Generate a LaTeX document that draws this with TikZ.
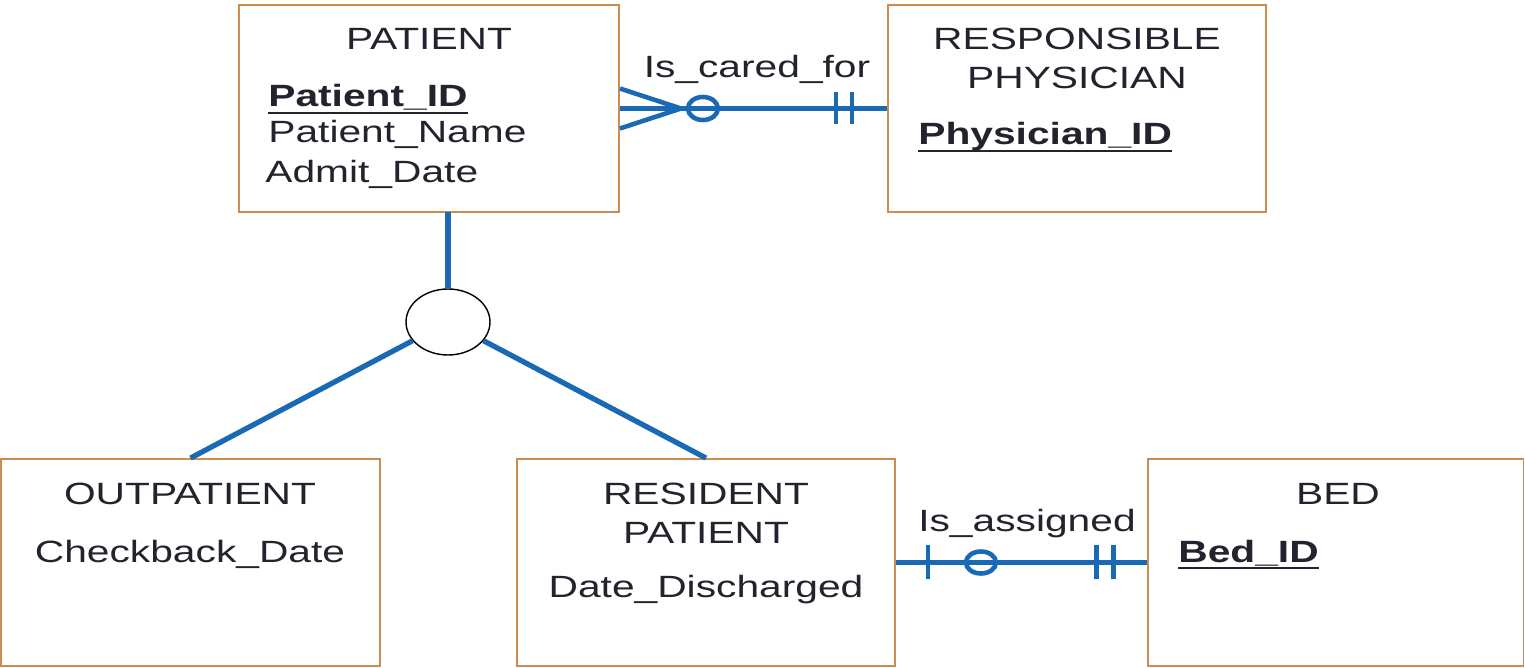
\documentclass[tikz,border=0pt]{standalone}
\usepackage{fontspec}
\setmainfont{Liberation Sans}[FakeStretch=1.325]
\usetikzlibrary{calc,shapes.geometric}
\definecolor{boxline}{RGB}{205,140,80}
\definecolor{relline}{RGB}{25,105,180}
\definecolor{ink}{RGB}{35,35,45}
\begin{document}
\begin{tikzpicture}[x=0.02cm,y=-0.02cm,
  entity/.style={draw=boxline,line width=1.1pt,rectangle,minimum height=4.14cm,inner sep=0pt},
  txt/.style={inner sep=0pt,text=ink,font=\fontsize{17.5}{21}\selectfont},
  rel/.style={draw=relline,line width=3pt},
  cardmark/.style={draw=relline,line width=2.6pt},
  keyline/.style={draw=ink,line width=1.1pt}]
\useasboundingbox (0,0) rectangle (1525,668);

% entity boxes
\node[entity,minimum width=7.6cm]  (patient) at (429,108.5) {};
\node[entity,minimum width=7.56cm] (phys)    at (1077,108.5) {};
\node[entity,minimum width=7.58cm] (outp)    at (190.5,562.5) {};
\node[entity,minimum width=7.56cm] (resid)   at (706,562.5) {};
\node[entity,minimum width=7.52cm] (bed)     at (1335.5,562.5) {};

% subtype circle
\node[ellipse,draw=black,line width=0.8pt,minimum width=1.68cm,minimum height=1.32cm,inner sep=0pt] (isa) at (448,322) {};

% supertype / subtype lines
\draw[rel] (448,212) -- (isa.north);
\draw[rel] (isa) -- (outp.north);
\draw[rel] (isa) -- (resid.north);

% Is_cared_for
\draw[rel] (patient.east) -- (phys.west);
\coordinate (cf) at ($(patient.east)+(61,0)$);
\draw[cardmark] ($(patient.east)+(0,-20)$) -- (cf) -- ($(patient.east)+(0,20)$);
\draw[cardmark] ($(patient.east)+(83,0)$) ellipse [x radius=15, y radius=11.5];
\draw[cardmark] ($(phys.west)+(-51,-16)$) -- ($(phys.west)+(-51,16)$);
\draw[cardmark] ($(phys.west)+(-35,-16)$) -- ($(phys.west)+(-35,16)$);

% Is_assigned
\draw[rel] (resid.east) -- (bed.west);
\draw[cardmark] ($(resid.east)+(32,-17)$) -- ($(resid.east)+(32,17)$);
\draw[cardmark] ($(resid.east)+(85,0)$) ellipse [x radius=15, y radius=11];
\draw[cardmark] ($(bed.west)+(-50,-17)$) -- ($(bed.west)+(-50,17)$);
\draw[cardmark] ($(bed.west)+(-33,-17)$) -- ($(bed.west)+(-33,17)$);

% texts
\node[txt,anchor=base] (tpat) at (429,50) {PATIENT};
\node[txt,anchor=base west,font=\fontsize{17.5}{21}\selectfont\bfseries] (pid) at (268,107) {Patient\_ID};
\draw[keyline] ([yshift=-3.4pt]pid.base west) -- ([yshift=-3.4pt]pid.base east);
\node[txt,anchor=base west] (pname) at (268,143) {Patient\_Name};
\node[txt,anchor=base west] (padm) at (265,183) {Admit\_Date};

\node[txt,anchor=base] (lcare) at (757,78) {Is\_cared\_for};

\node[txt,anchor=base] (tphys1) at (1077,50) {RESPONSIBLE};
\node[txt,anchor=base] (tphys2) at (1077,89) {PHYSICIAN};
\node[txt,anchor=base west,font=\fontsize{17.5}{21}\selectfont\bfseries] (phid) at (918,145) {Physician\_ID};
\draw[keyline] ([yshift=-3.4pt]phid.base west) -- ([yshift=-3.4pt]phid.base east);

\node[txt,anchor=base] (tout) at (190,505) {OUTPATIENT};
\node[txt,anchor=base] (ochk) at (190,562) {Checkback\_Date};

\node[txt,anchor=base] (tres1) at (706,505) {RESIDENT};
\node[txt,anchor=base] (tres2) at (706,544) {PATIENT};
\node[txt,anchor=base] (rdis) at (706,598) {Date\_Discharged};

\node[txt,anchor=base] (lasg) at (1027,532) {Is\_assigned};

\node[txt,anchor=base] (tbed) at (1338,505) {BED};
\node[txt,anchor=base west,font=\fontsize{17.5}{21}\selectfont\bfseries] (bid) at (1178,562) {Bed\_ID};
\draw[keyline] ([yshift=-3.4pt]bid.base west) -- ([yshift=-3.4pt]bid.base east);
\end{tikzpicture}
\end{document}
